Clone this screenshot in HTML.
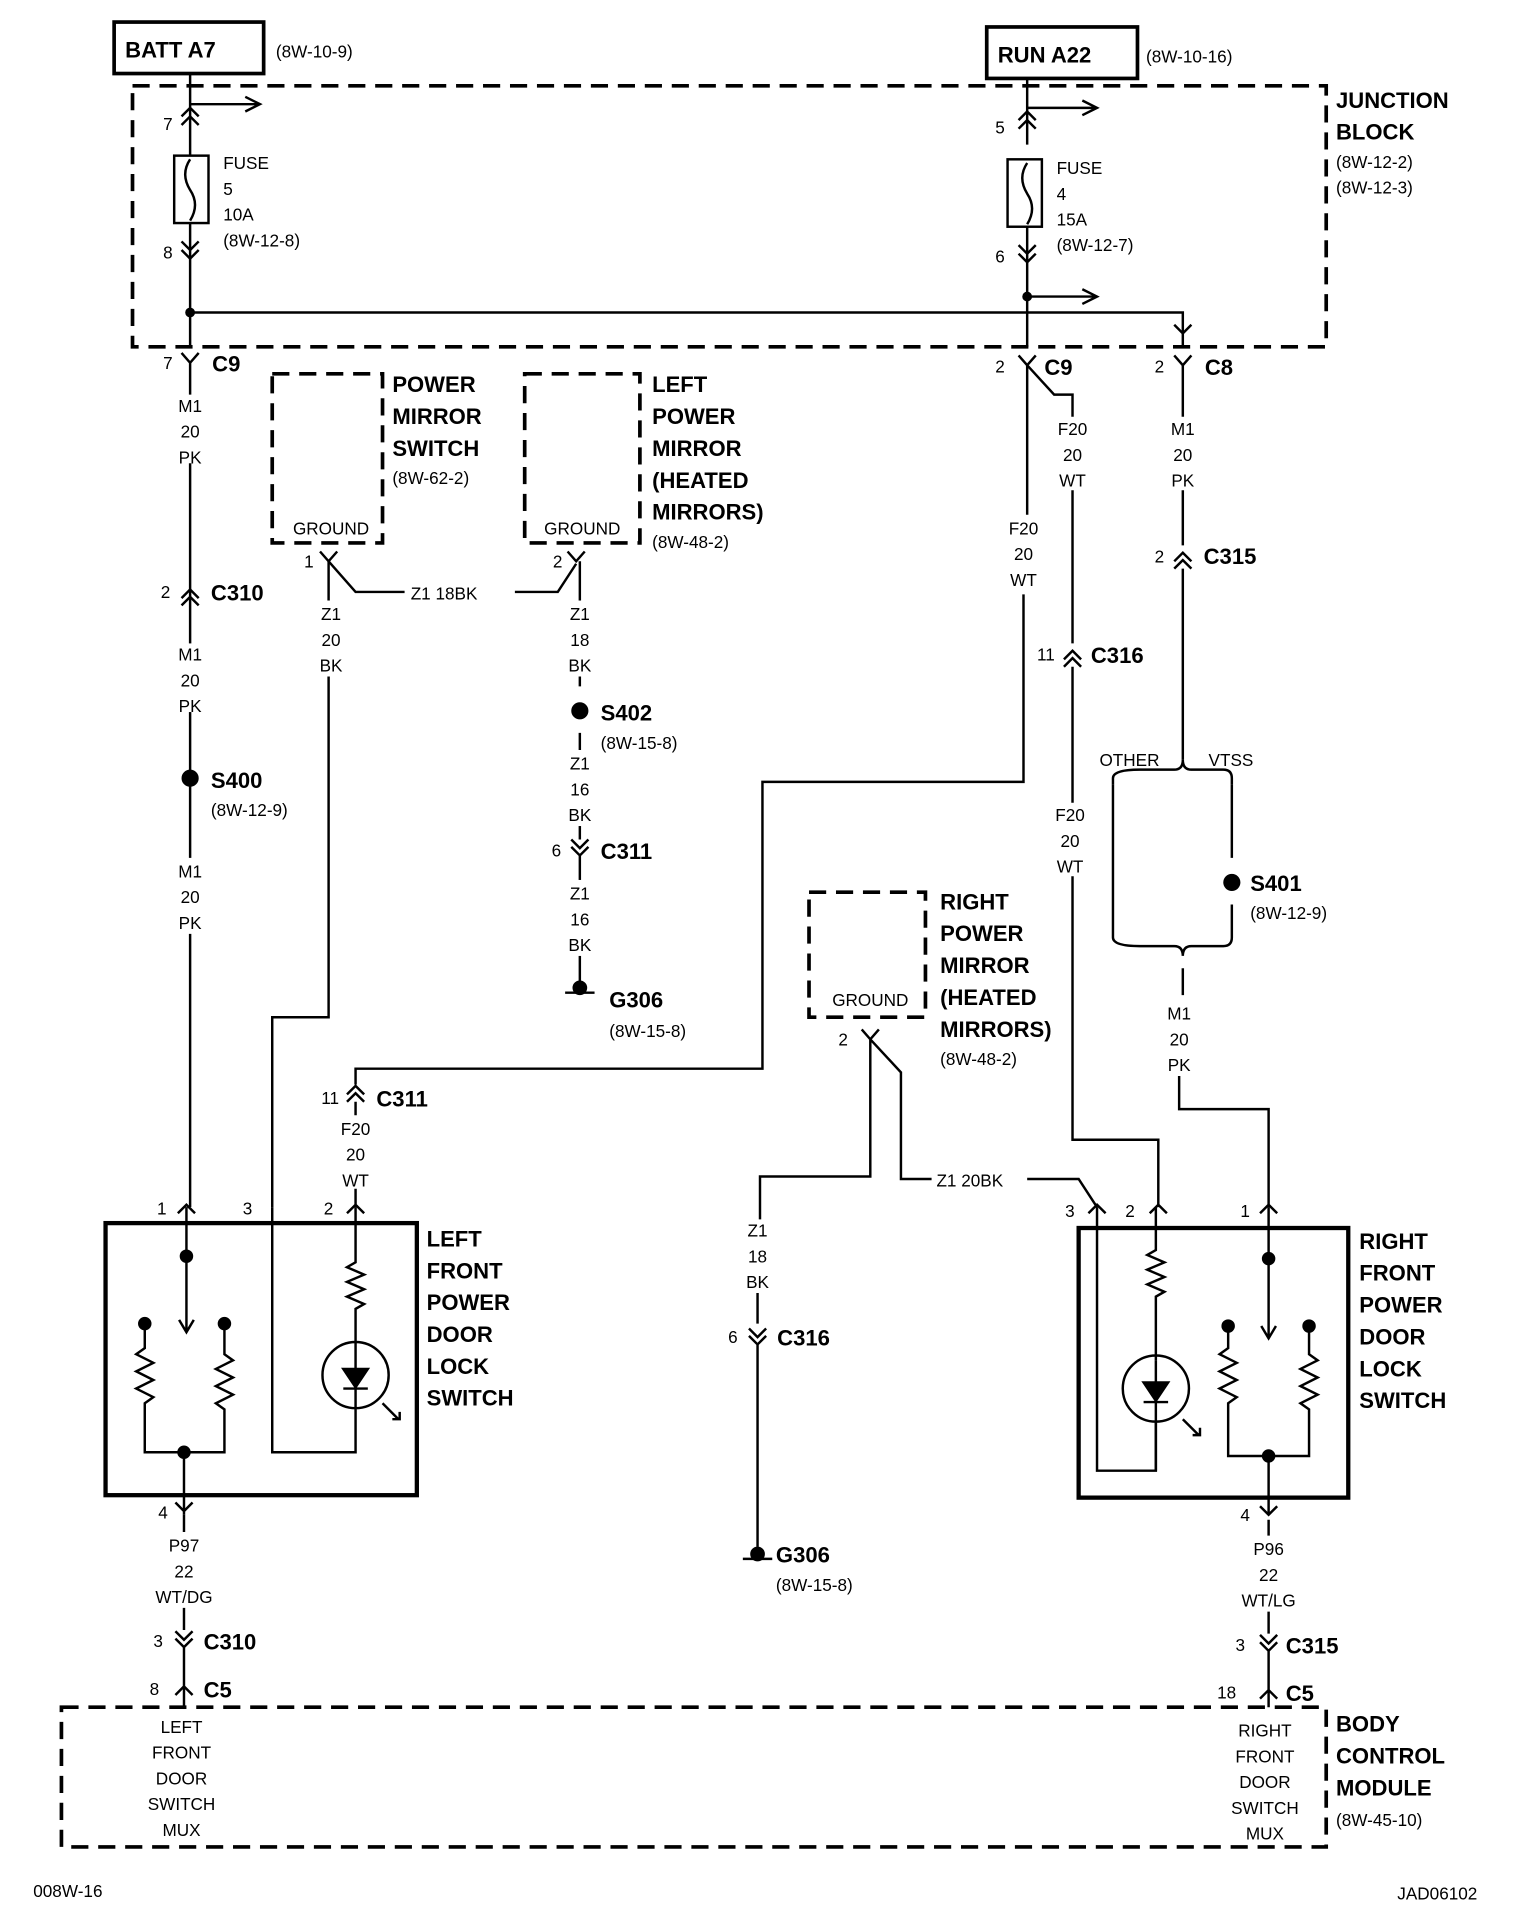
<!DOCTYPE html>
<html><head><meta charset="utf-8"><style>
html,body{margin:0;padding:0;background:#fff}
svg{display:block}
text{font-family:"Liberation Sans",sans-serif;fill:#000}
.b{font-weight:bold;font-size:18px}
.s{font-size:14px}
.m{font-size:14px}
</style></head><body>
<svg width="1520" height="1918" viewBox="0 0 1240 1565" xmlns="http://www.w3.org/2000/svg">
<g fill="none" stroke="#000" stroke-width="2">
<rect x="93" y="18" width="122" height="42" stroke-width="3"/>
<rect x="805" y="22" width="123" height="42" stroke-width="3"/>
<path d="M108 70 H1082 V283 H108 Z" stroke-dasharray="14 8" stroke-width="3"/>
<path d="M155 60 V115 M155 182 V283"/>
<rect x="142" y="127" width="28" height="55"/>
<path d="M155 115 V127 M155 130 q-8 12 0 25 q8 12 0 25"/>
<path d="M155 85 H210 M200 79 L212 85 L200 91" />
<path d="M148 95 L155 88 L162 95 M148 102 L155 95 L162 102"/>
<path d="M148 197 L155 204 L162 197 M148 204 L155 211 L162 204"/>
<circle cx="155" cy="255" r="3" fill="#000"/>
<path d="M155 255 H965 V283"/>
<path d="M838 64 V118 M838 185 V283"/>
<rect x="822" y="130" width="28" height="55"/>
<path d="M838 133 q-8 12 0 25 q8 12 0 25"/>
<path d="M838 88 H893 M883 82 L895 88 L883 94"/>
<path d="M838 242 H893 M883 236 L895 242 L883 248"/>
<circle cx="838" cy="242" r="3" fill="#000"/>
<path d="M831 98 L838 91 L845 98 M831 105 L838 98 L845 105"/>
<path d="M831 200 L838 207 L845 200 M831 207 L838 214 L845 207"/>
<path d="M958 265 L965 272 L972 265"/>
<path d="M148 288 L155 296 L162 288 M155 296 V985"/>
<path d="M831 290 L838 298 L845 290"/>
<path d="M958 290 L965 298 L972 290"/>
<path d="M148 488 L155 481 L162 488 M148 494 L155 487 L162 494"/>
<circle cx="155" cy="635" r="6" fill="#000"/>
<path d="M145 990 L152 983 L159 990" />
<path d="M222 305 H312 V443 H222 Z" stroke-dasharray="14 8" stroke-width="3"/>
<path d="M261 450 L268 458 L275 450 M268 458 L290 483 H330 M420 483 H455 L470 460 M463 450 L470 458 L477 450"/>
<path d="M268 458 V830 H222 V985"/>
<path d="M428 305 H522 V443 H428 Z" stroke-dasharray="14 8" stroke-width="3"/>
<path d="M473 458 V560"/>
<circle cx="473" cy="580" r="6" fill="#000"/>
<path d="M473 598 V612 M473 630 V685 M466 685 L473 692 L480 685 M466 691 L473 698 L480 691 M473 698 V800"/>
<path d="M461 810 H485 M473 800 V810"/>
<circle cx="473" cy="806" r="5" fill="#000"/>
<path d="M838 298 V420 M835 485 V638 H622 V872 H290 V885"/>
<path d="M283 893 L290 886 L297 893 M283 899 L290 892 L297 899 M290 899 V910"/>
<path d="M290 970 V985 M283 990 L290 983 L297 990"/>
<path d="M838 298 L860 322 H875 V340 M875 400 V525"/>
<path d="M868 538 L875 531 L882 538 M868 544 L875 537 L882 544 M875 544 V655 M875 715 V930 H945 V985"/>
<path d="M938 990 L945 983 L952 990"/>
<path d="M965 298 V340 M965 400 V445 M958 458 L965 451 L972 458 M958 464 L965 457 L972 464 M965 464 V620"/>
<path d="M908 640 V635 Q908 628 930 628 H958 Q965 628 965 620 Q965 628 972 628 H998 Q1005 628 1005 635 V640"/>
<path d="M908 640 V765 M1005 640 V700 M1005 738 V765"/>
<circle cx="1005" cy="720" r="6" fill="#000"/>
<path d="M908 765 Q908 772 930 772 H958 Q965 772 965 780 Q965 772 972 772 H998 Q1005 772 1005 765"/>
<path d="M965 790 V812 M962 878 V905 H1035 V985 M1028 990 L1035 983 L1042 990"/>
<path d="M660 728 H755 V830 H660 Z" stroke-dasharray="14 8" stroke-width="3"/>
<path d="M703 840 L710 848 L717 840 M710 848 V960 H620 V995 M710 848 L735 875 V962 H760 M838 962 H880 L895 985"/>
<path d="M888 990 L895 983 L902 990"/>
<path d="M618 1055 V1080 M611 1084 L618 1091 L625 1084 M611 1090 L618 1097 L625 1090 M618 1097 V1262"/>
<path d="M606 1272 H630 M618 1262 V1272"/>
<circle cx="618" cy="1268" r="5" fill="#000"/>
<rect x="86" y="998" width="254" height="222" stroke-width="3.5"/>
<path d="M152 985 V1085 M146 1077 L152 1087 L158 1077"/>
<circle cx="152" cy="1025" r="4.5" fill="#000"/>
<circle cx="118" cy="1080" r="4.5" fill="#000"/><circle cx="183" cy="1080" r="4.5" fill="#000"/>
<path d="M118 1080 V1100 l-7 5 l14 7 l-14 7 l14 7 l-14 7 l14 7 l-7 5 V1185 H183 V1150 l-7 -5 l14 -7 l-14 -7 l14 -7 l-14 -7 l14 -7 l-7 -5 V1080"/>
<circle cx="150" cy="1185" r="4.5" fill="#000"/>
<path d="M150 1185 V1236 M143 1226 L150 1233 L157 1226"/>
<path d="M222 985 V1185 H290 V1150 M290 985 V1030 l-7 4 l14 6 l-14 6 l14 6 l-14 6 l14 6 l-7 4 V1095"/>
<circle cx="290" cy="1122" r="27"/>
<path d="M280 1117 H300 L290 1132 Z" fill="#000"/><path d="M280 1133 H300 M290 1095 V1117 M290 1132 V1150"/>
<path d="M312 1145 L325 1158 M320 1158 H326 V1152"/>
<rect x="880" y="1002" width="220" height="220" stroke-width="3.5"/>
<path d="M895 985 V1200 H943 V1160 M943 985 V1020 l-7 4 l14 6 l-14 6 l14 6 l-14 6 l14 6 l-7 4 V1110"/>
<circle cx="943" cy="1133" r="27"/>
<path d="M933 1128 H953 L943 1143 Z" fill="#000"/><path d="M933 1144 H953 M943 1110 V1128 M943 1143 V1200"/>
<path d="M965 1158 L978 1171 M973 1171 H979 V1165"/>
<path d="M1035 985 V1090 M1029 1082 L1035 1092 L1041 1082"/>
<circle cx="1035" cy="1027" r="4.5" fill="#000"/>
<circle cx="1002" cy="1082" r="4.5" fill="#000"/><circle cx="1068" cy="1082" r="4.5" fill="#000"/>
<path d="M1002 1082 V1100 l-7 5 l14 7 l-14 7 l14 7 l-14 7 l14 7 l-7 5 V1188 H1068 V1150 l-7 -5 l14 -7 l-14 -7 l14 -7 l-14 -7 l14 -7 l-7 -5 V1082"/>
<circle cx="1035" cy="1188" r="4.5" fill="#000"/>
<path d="M1035 1188 V1235 M1028 1229 L1035 1236 L1042 1229"/>
<path d="M150 1236 V1250 M150 1312 V1330 M143 1331 L150 1338 L157 1331 M143 1337 L150 1344 L157 1337 M150 1344 V1393 M143 1383 L150 1376 L157 1383"/>
<path d="M1035 1240 V1253 M1035 1315 V1333 M1028 1334 L1035 1341 L1042 1334 M1028 1340 L1035 1347 L1042 1340 M1035 1347 V1393 M1028 1386 L1035 1379 L1042 1386"/>
<path d="M50 1393 H1082 V1507 H50 Z" stroke-dasharray="14 8" stroke-width="3"/>
</g>
<g fill="#fff">
<rect x="136" y="322" width="38" height="56"/><rect x="136" y="525" width="38" height="56"/><rect x="136" y="700" width="38" height="62"/>
<rect x="258" y="490" width="24" height="62"/>
<rect x="461" y="490" width="24" height="62"/><rect x="461" y="612" width="24" height="62"/><rect x="461" y="718" width="24" height="62"/>
</g>
<text class="b" x="102" y="47">BATT A7</text><text class="s" x="225" y="47">(8W-10-9)</text>
<text class="b" x="814" y="51">RUN A22</text><text class="s" x="935" y="51">(8W-10-16)</text>
<text class="b" x="1090" y="88">JUNCTION</text><text class="b" x="1090" y="114">BLOCK</text>
<text class="s" x="1090" y="137">(8W-12-2)</text><text class="s" x="1090" y="158">(8W-12-3)</text>
<text class="m" x="133" y="106">7</text><text class="m" x="133" y="211">8</text>
<text class="m" x="182" y="138">FUSE</text><text class="m" x="182" y="159">5</text><text class="m" x="182" y="180">10A</text><text class="s" x="182" y="201">(8W-12-8)</text>
<text class="m" x="812" y="109">5</text><text class="m" x="812" y="214">6</text>
<text class="m" x="862" y="142">FUSE</text><text class="m" x="862" y="163">4</text><text class="m" x="862" y="184">15A</text><text class="s" x="862" y="205">(8W-12-7)</text>
<text class="m" x="133" y="301">7</text><text class="b" x="173" y="303">C9</text>
<text class="m" x="812" y="304">2</text><text class="b" x="852" y="306">C9</text>
<text class="m" x="942" y="304">2</text><text class="b" x="983" y="306">C8</text>
<g class="m" text-anchor="middle">
<text x="155" y="336">M1</text><text x="155" y="357">20</text><text x="155" y="378">PK</text>
<text x="155" y="539">M1</text><text x="155" y="560">20</text><text x="155" y="581">PK</text>
<text x="155" y="716">M1</text><text x="155" y="737">20</text><text x="155" y="758">PK</text>
<text x="270" y="506">Z1</text><text x="270" y="527">20</text><text x="270" y="548">BK</text>
<text x="473" y="506">Z1</text><text x="473" y="527">18</text><text x="473" y="548">BK</text>
<text x="473" y="628">Z1</text><text x="473" y="649">16</text><text x="473" y="670">BK</text>
<text x="473" y="734">Z1</text><text x="473" y="755">16</text><text x="473" y="776">BK</text>
<text x="875" y="355">F20</text><text x="875" y="376">20</text><text x="875" y="397">WT</text>
<text x="835" y="436">F20</text><text x="835" y="457">20</text><text x="835" y="478">WT</text>
<text x="965" y="355">M1</text><text x="965" y="376">20</text><text x="965" y="397">PK</text>
<text x="873" y="670">F20</text><text x="873" y="691">20</text><text x="873" y="712">WT</text>
<text x="962" y="832">M1</text><text x="962" y="853">20</text><text x="962" y="874">PK</text>
<text x="290" y="926">F20</text><text x="290" y="947">20</text><text x="290" y="968">WT</text>
<text x="618" y="1009">Z1</text><text x="618" y="1030">18</text><text x="618" y="1051">BK</text>
<text x="150" y="1266">P97</text><text x="150" y="1287">22</text><text x="150" y="1308">WT/DG</text>
<text x="1035" y="1269">P96</text><text x="1035" y="1290">22</text><text x="1035" y="1311">WT/LG</text>
<text x="148" y="1414">LEFT</text><text x="148" y="1435">FRONT</text><text x="148" y="1456">DOOR</text><text x="148" y="1477">SWITCH</text><text x="148" y="1498">MUX</text>
<text x="1032" y="1417">RIGHT</text><text x="1032" y="1438">FRONT</text><text x="1032" y="1459">DOOR</text><text x="1032" y="1480">SWITCH</text><text x="1032" y="1501">MUX</text>
<text x="270" y="436">GROUND</text><text x="475" y="436">GROUND</text><text x="710" y="821">GROUND</text>
</g>
<text class="b" x="320" y="320">POWER</text><text class="b" x="320" y="346">MIRROR</text><text class="b" x="320" y="372">SWITCH</text><text class="s" x="320" y="395">(8W-62-2)</text>
<text class="b" x="532" y="320">LEFT</text><text class="b" x="532" y="346">POWER</text><text class="b" x="532" y="372">MIRROR</text><text class="b" x="532" y="398">(HEATED</text><text class="b" x="532" y="424">MIRRORS)</text><text class="s" x="532" y="447">(8W-48-2)</text>
<text class="m" x="248" y="463">1</text><text class="m" x="451" y="463">2</text>
<text class="m" x="335" y="489">Z1  18BK</text>
<text class="m" x="131" y="488">2</text><text class="b" x="172" y="490">C310</text>
<text class="b" x="172" y="643">S400</text><text class="s" x="172" y="666">(8W-12-9)</text>
<text class="b" x="490" y="588">S402</text><text class="s" x="490" y="611">(8W-15-8)</text>
<text class="m" x="450" y="699">6</text><text class="b" x="490" y="701">C311</text>
<text class="b" x="497" y="822">G306</text><text class="s" x="497" y="846">(8W-15-8)</text>
<text class="m" x="942" y="459">2</text><text class="b" x="982" y="460">C315</text>
<text class="m" x="846" y="539">11</text><text class="b" x="890" y="541">C316</text>
<text class="m" x="897" y="625">OTHER</text><text class="m" x="986" y="625">VTSS</text>
<text class="b" x="1020" y="727">S401</text><text class="s" x="1020" y="750">(8W-12-9)</text>
<text class="b" x="767" y="742">RIGHT</text><text class="b" x="767" y="768">POWER</text><text class="b" x="767" y="794">MIRROR</text><text class="b" x="767" y="820">(HEATED</text><text class="b" x="767" y="846">MIRRORS)</text><text class="s" x="767" y="869">(8W-48-2)</text>
<text class="m" x="684" y="853">2</text>
<text class="m" x="262" y="901">11</text><text class="b" x="307" y="903">C311</text>
<text class="m" x="764" y="968">Z1  20BK</text>
<text class="m" x="128" y="991">1</text><text class="m" x="198" y="991">3</text><text class="m" x="264" y="991">2</text>
<text class="m" x="869" y="993">3</text><text class="m" x="918" y="993">2</text><text class="m" x="1012" y="993">1</text>
<text class="b" x="348" y="1017">LEFT</text><text class="b" x="348" y="1043">FRONT</text><text class="b" x="348" y="1069">POWER</text><text class="b" x="348" y="1095">DOOR</text><text class="b" x="348" y="1121">LOCK</text><text class="b" x="348" y="1147">SWITCH</text>
<text class="b" x="1109" y="1019">RIGHT</text><text class="b" x="1109" y="1045">FRONT</text><text class="b" x="1109" y="1071">POWER</text><text class="b" x="1109" y="1097">DOOR</text><text class="b" x="1109" y="1123">LOCK</text><text class="b" x="1109" y="1149">SWITCH</text>
<text class="m" x="594" y="1096">6</text><text class="b" x="634" y="1098">C316</text>
<text class="b" x="633" y="1275">G306</text><text class="s" x="633" y="1298">(8W-15-8)</text>
<text class="m" x="129" y="1239">4</text><text class="m" x="1012" y="1241">4</text>
<text class="m" x="125" y="1344">3</text><text class="b" x="166" y="1346">C310</text>
<text class="m" x="122" y="1383">8</text><text class="b" x="166" y="1385">C5</text>
<text class="m" x="1008" y="1347">3</text><text class="b" x="1049" y="1349">C315</text>
<text class="m" x="993" y="1386">18</text><text class="b" x="1049" y="1388">C5</text>
<text class="b" x="1090" y="1413">BODY</text><text class="b" x="1090" y="1439">CONTROL</text><text class="b" x="1090" y="1465">MODULE</text><text class="s" x="1090" y="1490">(8W-45-10)</text>
<text class="s" x="27" y="1548">008W-16</text><text class="s" x="1140" y="1550">JAD06102</text>
</svg>
</body></html>
